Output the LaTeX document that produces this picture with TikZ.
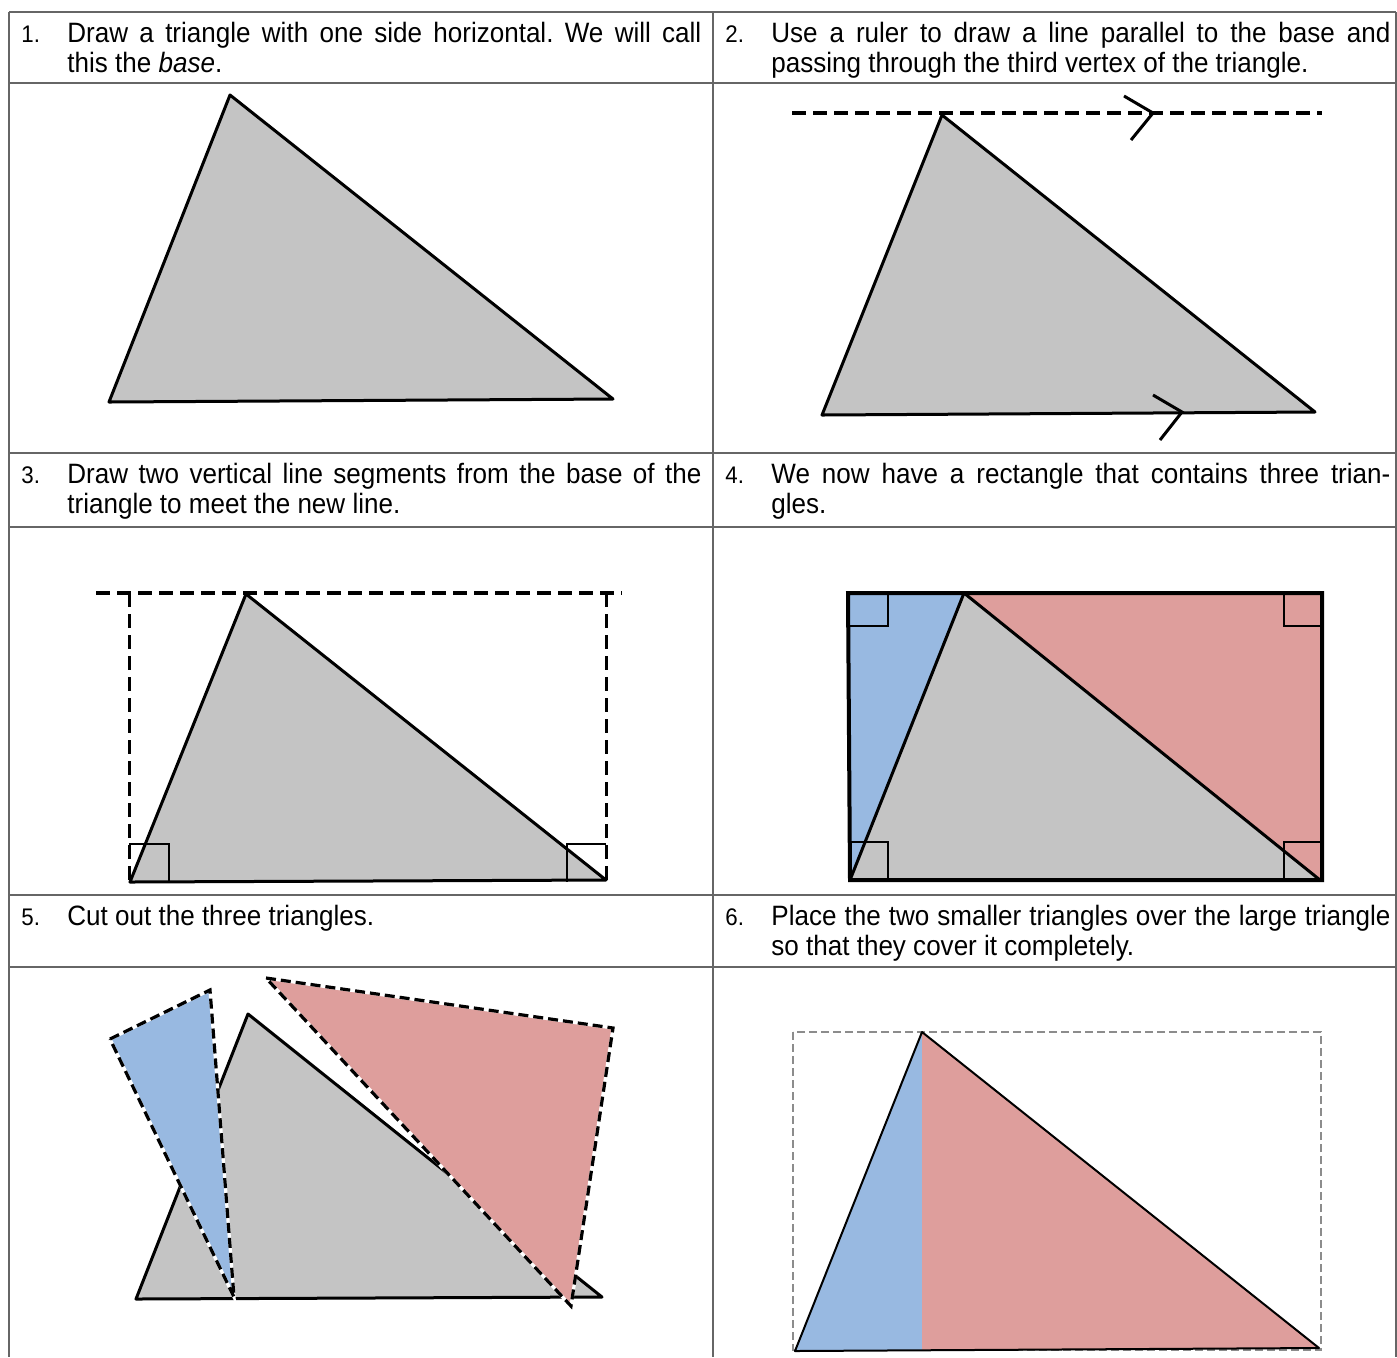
\documentclass[tikz,border=0pt]{standalone}
\usepackage{fontspec}
\setmainfont{Liberation Sans}[FakeStretch=0.93]
\frenchspacing
\definecolor{tgrey}{HTML}{C4C4C4}
\definecolor{tblue}{HTML}{98B9E1}
\definecolor{tred}{HTML}{DE9E9C}
\definecolor{rulecol}{HTML}{666666}
\definecolor{boxdash}{HTML}{8C8C8C}
\begin{document}
\begin{tikzpicture}[x=0.5pt,y=-0.5pt,
  tri/.style={fill=tgrey,draw=black,line width=1.5pt,line join=round},
  chev/.style={draw=black,line width=1.5pt},
  bigdash/.style={draw=black,line width=2pt,dash pattern=on 7pt off 3.5pt},
  vdash/.style={draw=black,line width=1.5pt,dash pattern=on 7pt off 3.5pt},
  ra/.style={draw=black,line width=0.8pt},
  cutline/.style={draw=white,line width=1.6pt},
  cutdash/.style={draw=black,line width=1.6pt,dash pattern=on 5pt off 2.5pt},
  greydash/.style={draw=boxdash,line width=0.8pt,dash pattern=on 4pt off 2pt},
  rulel/.style={draw=rulecol,line width=1pt},
  txt/.style={anchor=base west,inner sep=0pt,font=\fontsize{14}{15}\selectfont},
  num/.style={anchor=base west,inner sep=0pt,font=\fontsize{12}{14}\selectfont}]
\useasboundingbox (0,0) rectangle (1397,1357);
\fill[white] (0,0) rectangle (1397,1357);

% ---------- table rules ----------
\foreach \yy in {12,83,453,527,895,967}
  \draw[rulel] (9,\yy) -- (1396,\yy);
\draw[rulel] (9,12) -- (9,1357);
\draw[rulel] (713,12) -- (713,1357);
\draw[rulel] (1396,12) -- (1396,1357);

% ---------- texts ----------
\node[num] (n1) at (21,42.5) {1.};
\node[txt] (t1a) at (67,42.5) {\makebox[317pt][s]{Draw a triangle with one side horizontal. We will call}};
\node[txt] (t1b) at (67,72.5) {this the \textit{base}.};
\node[num] (n2) at (725,42.5) {2.};
\node[txt] (t2a) at (771,42.5) {\makebox[309.5pt][s]{Use a ruler to draw a line parallel to the base and}};
\node[txt] (t2b) at (771,72.5) {passing through the third vertex of the triangle.};

\node[num] (n3) at (21,483.5) {3.};
\node[txt] (t3a) at (67,483.5) {\makebox[317pt][s]{Draw two vertical line segments from the base of the}};
\node[txt] (t3b) at (67,513.5) {triangle to meet the new line.};
\node[num] (n4) at (725,483.5) {4.};
\node[txt] (t4a) at (771,483.5) {\makebox[309.5pt][s]{We now have a rectangle that contains three trian-}};
\node[txt] (t4b) at (771,513.5) {gles.};

\node[num] (n5) at (21,925.5) {5.};
\node[txt] (t5a) at (67,925.5) {Cut out the three triangles.};
\node[num] (n6) at (725,925.5) {6.};
\node[txt] (t6a) at (771,925.5) {\makebox[309.5pt][s]{Place the two smaller triangles over the large triangle}};
\node[txt] (t6b) at (771,955.5) {so that they cover it completely.};

% ---------- panel 1 ----------
\draw[tri] (230,95) -- (109,402) -- (613,399) -- cycle;

% ---------- panel 2 ----------
\draw[tri] (942,115) -- (822,415) -- (1315,412) -- cycle;
\draw[bigdash] (792,113) -- (1322,113);
\draw[chev] (1124,96) -- (1153,113) -- (1131,140);
\draw[chev] (1153,395) -- (1182,412) -- (1160,440);

% ---------- panel 3 ----------
\draw[tri] (246,594) -- (130,882) -- (606,880) -- cycle;
\draw[ra] (129,844) -- (169,844) -- (169,882);
\draw[ra] (606,844) -- (567,844) -- (567,882);
\draw[bigdash] (96,593) -- (622,593);
\draw[vdash] (129,593) -- (129,882);
\draw[vdash] (606,593) -- (606,882);

% ---------- panel 4 ----------
\fill[tblue] (848,593) -- (964,593) -- (850,880) -- cycle;
\fill[tred] (964,593) -- (1322,593) -- (1322,880) -- cycle;
\draw[tri] (964,593) -- (850,880) -- (1320,880) -- cycle;
\draw[ra] (848,626) -- (888,626) -- (888,593);
\draw[ra] (1322,626) -- (1284,626) -- (1284,593);
\draw[ra] (850,842) -- (888,842) -- (888,880);
\draw[ra] (1322,842) -- (1284,842) -- (1284,880);
\draw[draw=black,line width=2pt,line join=miter] (848,593) -- (1322,593) -- (1322,880) -- (850,880) -- cycle;

% ---------- panel 5 ----------
\draw[tri] (248,1014) -- (136,1299) -- (602,1297) -- cycle;
\fill[tblue] (110,1039) -- (210,990) -- (234,1297) -- cycle;
\draw[cutline] (110,1039) -- (210,990) -- (234,1297) -- cycle;
\draw[cutdash] (110,1039) -- (210,990) -- (234,1297) -- cycle;
\fill[tred] (266,978) -- (613,1028) -- (571,1306) -- cycle;
\draw[cutline] (266,978) -- (613,1028) -- (571,1306) -- cycle;
\draw[cutdash] (266,978) -- (613,1028) -- (571,1306) -- cycle;

% ---------- panel 6 ----------
\draw[greydash] (793,1032) rectangle (1321,1350);
\fill[tblue] (922,1032) -- (795,1351) -- (922,1350) -- cycle;
\fill[tred] (922,1032) -- (922,1350) -- (1319,1348) -- cycle;
\draw[draw=black,line width=1pt,line join=round] (922,1032) -- (795,1351) -- (1319,1348) -- cycle;
\end{tikzpicture}
\end{document}
